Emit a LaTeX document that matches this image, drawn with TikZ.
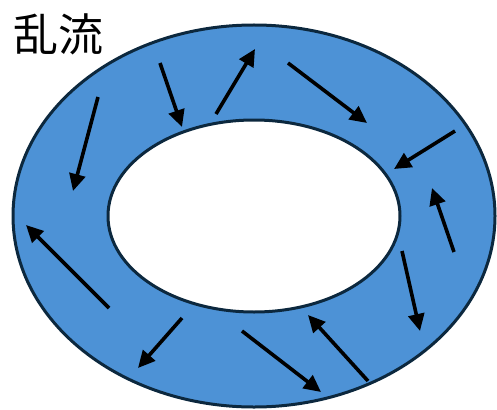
\documentclass[tikz,border=0pt]{standalone}
\usepackage{fontspec}
\newfontfamily\cjk{Noto Sans CJK JP}
\usetikzlibrary{arrows.meta}
\definecolor{ringblue}{RGB}{77,146,214}
\definecolor{ringedge}{RGB}{12,40,62}
\tikzset{
  flow/.style={line width=3.6pt, -{Triangle[length=17pt,width=16pt]}},
  ring/.style={draw=ringedge, line width=3pt}
}
\begin{document}
\begin{tikzpicture}[x=1pt,y=-1pt]
\useasboundingbox (0,0) rectangle (497,409);
\fill[ringblue, even odd rule] (254,216) ellipse [x radius=241, y radius=191]
  (254,216) ellipse [x radius=146, y radius=96];
\draw[ring] (254,216) ellipse [x radius=241, y radius=191];
\draw[ring] (254,216) ellipse [x radius=146, y radius=96];
\node[font=\cjk\fontsize{45}{50}\selectfont, inner sep=0pt] (title) at (58,34) {乱流};
\draw[flow] (98,97) -- (73,191);
\draw[flow] (160,63) -- (182,127);
\draw[flow] (216,114) -- (255,49);
\draw[flow] (288,63) -- (367,123);
\draw[flow] (455,131) -- (394,169);
\draw[flow] (454,252) -- (432,188);
\draw[flow] (402,251) -- (420,331);
\draw[flow] (368,381) -- (308,315);
\draw[flow] (242,331) -- (321,392);
\draw[flow] (182,318) -- (138,368);
\draw[flow] (109,308) -- (26,225);
\end{tikzpicture}
\end{document}
